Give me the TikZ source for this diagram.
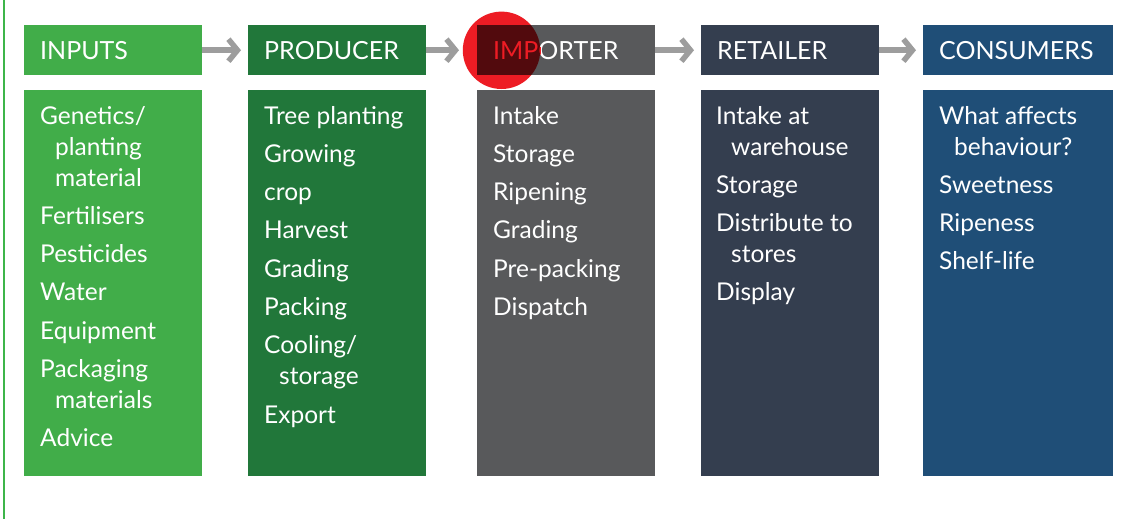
\documentclass[tikz,border=0pt]{standalone}
\usepackage{fontspec}
\setmainfont{Lato}
\usetikzlibrary{arrows.meta}
\definecolor{cIn}{HTML}{41AD49}
\definecolor{cProd}{HTML}{21773A}
\definecolor{cImp}{HTML}{58595B}
\definecolor{cRet}{HTML}{343E4F}
\definecolor{cCons}{HTML}{1F4E77}
\definecolor{cArr}{HTML}{9D9D9D}
\definecolor{cLine}{HTML}{3DB54A}
\definecolor{cRed}{HTML}{ED1C24}
\definecolor{cDark}{HTML}{520A0D}
\tikzset{
  hdr/.style={anchor=north west, minimum height=50pt, inner xsep=16pt, inner ysep=0pt,
    text width=146pt, align=left, text=white, font=\fontsize{25}{30}\selectfont,
    text height=18pt, text depth=0pt},
  wide/.style={text width=158pt},
  bodybox/.style={anchor=north west, inner sep=0pt, minimum width=178pt, minimum height=386pt},
  bt/.style={anchor=base west, inner sep=0pt, text=white, font=\fontsize{24.5}{28}\selectfont},
  arr/.style={draw=cArr, line width=5.5pt, -{Straight Barb[length=9pt,width=22pt]}},
}
\begin{document}
\begin{tikzpicture}[x=1pt,y=-1pt]
\useasboundingbox (0,0) rectangle (1126,519);
\fill[white] (0,0) rectangle (1126,519);
\draw[cLine, line width=1.2pt] (4,0) -- (4,519);
% red circle behind importer header
\fill[cRed] (501.5,50.3) circle[radius=38.7];
% headers
\node[hdr, fill=cIn] (inputs) at (24,25) {INPUTS};
\node[hdr, fill=cProd] (producer) at (248,25) {PRODUCER};
\node[hdr, fill=cImp] (importer) at (477,25) {IMPORTER};
\node[hdr, fill=cRet] (retailer) at (701,25) {RETAILER};
\node[hdr, wide, fill=cCons] (consumers) at (923,25) {CONSUMERS};
% multiply effect of the circle on the importer header
\begin{scope}
  \clip (501.5,50.3) circle[radius=38.7];
  \node[hdr, fill=cDark, text=cRed] (importerred) at (477,25) {IMPORTER};
\end{scope}
% arrows
\draw[arr] (inputs.east) -- ([xshift=-7pt]producer.west);
\draw[arr] (producer.east) -- ([xshift=-18pt]importer.west);
\draw[arr] (importer.east) -- ([xshift=-7pt]retailer.west);
\draw[arr] (retailer.east) -- ([xshift=-7pt]consumers.west);
% body boxes
\node[bodybox, fill=cIn] (inputsB) at (24,90) {};
\node[bodybox, fill=cProd] (producerB) at (248,90) {};
\node[bodybox, fill=cImp] (importerB) at (477,90) {};
\node[bodybox, fill=cRet] (retailerB) at (701,90) {};
\node[bodybox, fill=cCons, minimum width=190pt] (consumersB) at (923,90) {};
% column 1
\node[bt] (a1) at (40,124) {Genetics/};
\node[bt] (a2) at (55,155) {planting};
\node[bt] (a3) at (55,186) {material};
\node[bt] (a4) at (40,224.3) {Fertilisers};
\node[bt] (a5) at (40,262.6) {Pesticides};
\node[bt] (a6) at (40,300.9) {Water};
\node[bt] (a7) at (40,339.2) {Equipment};
\node[bt] (a8) at (40,377.5) {Packaging};
\node[bt] (a9) at (55,408.5) {materials};
\node[bt] (a10) at (40,446.8) {Advice};
% column 2
\node[bt] (b1) at (264,124) {Tree planting};
\node[bt] (b2) at (264,162.3) {Growing};
\node[bt] (b3) at (264,200.6) {crop};
\node[bt] (b4) at (264,238.9) {Harvest};
\node[bt] (b5) at (264,277.2) {Grading};
\node[bt] (b6) at (264,315.5) {Packing};
\node[bt] (b7) at (264,353.8) {Cooling/};
\node[bt] (b8) at (279,384.8) {storage};
\node[bt] (b9) at (264,423.1) {Export};
% column 3
\node[bt] (c1) at (493,124) {Intake};
\node[bt] (c2) at (493,162.3) {Storage};
\node[bt] (c3) at (493,200.6) {Ripening};
\node[bt] (c4) at (493,238.9) {Grading};
\node[bt] (c5) at (493,277.2) {Pre-packing};
\node[bt] (c6) at (493,315.5) {Dispatch};
% column 4
\node[bt] (d1) at (716,124) {Intake at};
\node[bt] (d2) at (731,155) {warehouse};
\node[bt] (d3) at (716,193.3) {Storage};
\node[bt] (d4) at (716,231.6) {Distribute to};
\node[bt] (d5) at (731,262.6) {stores};
\node[bt] (d6) at (716,300.9) {Display};
% column 5
\node[bt] (e1) at (939,124) {What affects};
\node[bt] (e2) at (954,155) {behaviour?};
\node[bt] (e3) at (939,193.3) {Sweetness};
\node[bt] (e4) at (939,231.6) {Ripeness};
\node[bt] (e5) at (939,269.9) {Shelf-life};
\end{tikzpicture}
\end{document}
